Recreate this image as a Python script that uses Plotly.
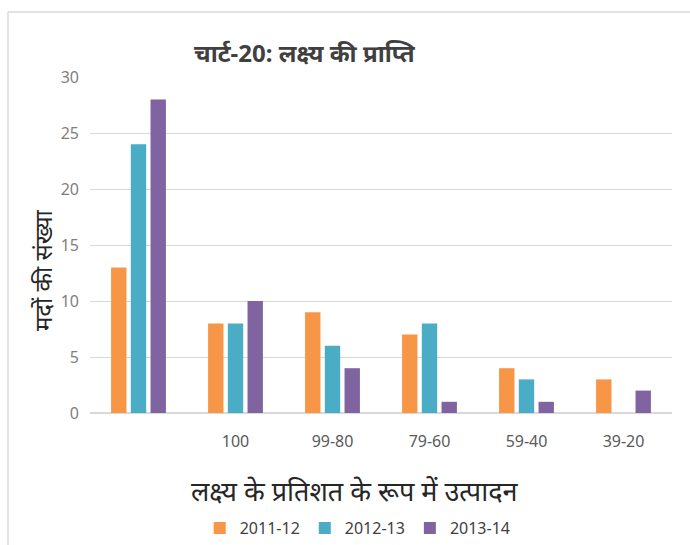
import plotly.graph_objects as go

categories = ["", "100", "99-80", "79-60", "59-40", "39-20"]
series_names = ["2011-12", "2012-13", "2013-14"]
v2011 = [13, 8, 9, 7, 4, 3]
v2012 = [24, 8, 6, 8, 3, 0]
v2013 = [28, 10, 4, 1, 1, 2]
colors = ["#F79646", "#4BACC6", "#8064A2"]

xs = list(range(len(categories)))
fig = go.Figure()
for name, vals, c in zip(series_names, [v2011, v2012, v2013], colors):
    fig.add_trace(go.Bar(x=xs, y=vals, name=name, marker=dict(color=c, line=dict(width=0))))

fig.update_layout(
    width=690, height=545,
    margin=dict(l=90, r=18, t=77, b=132, autoexpand=False),
    paper_bgcolor="white", plot_bgcolor="white",
    barmode="group", bargap=0.39, bargroupgap=0.22,
    font=dict(family="Noto Sans, DejaVu Sans, sans-serif", color="#595959"),
    showlegend=True,
    legend=dict(orientation="h", x=0.46, xanchor="center", y=-(528 - 413) / 336, yanchor="middle",
                font=dict(size=16, color="#404040"), traceorder="normal", itemwidth=30),
    xaxis=dict(tickmode="array", tickvals=xs, ticktext=categories,
               range=[-0.5, len(categories) - 0.5], showgrid=False, zeroline=False,
               showline=False, ticks="", tickfont=dict(size=16, color="#595959"),
               ticklabelstandoff=17),
    yaxis=dict(range=[0, 30], dtick=5, showgrid=True, gridcolor="#D9D9D9", gridwidth=1,
               zeroline=True, zerolinecolor="#D9D9D9", showline=False, ticks="",
               tickfont=dict(size=16, color="#7F7F7F"), ticklabelstandoff=10),
)

fig.add_annotation(text="<b>चार्ट-20: लक्ष्य की प्राप्ति</b>", xref="paper", yref="paper",
                   x=(305 - 90) / 582, y=1 + (77 - 52) / 336, showarrow=False,
                   font=dict(size=24, color="#404040"), xanchor="center", yanchor="middle")
fig.add_annotation(text="मदों की संख्या", xref="paper", yref="paper",
                   x=(42 - 90) / 582, y=(413 - 270) / 336, showarrow=False, textangle=-90,
                   font=dict(size=24, color="#262626"), xanchor="center", yanchor="middle")
fig.add_annotation(text="लक्ष्य के प्रतिशत के रूप में उत्पादन", xref="paper", yref="paper",
                   x=(354 - 90) / 582, y=-(490 - 413) / 336, showarrow=False,
                   font=dict(size=27, color="#262626"), xanchor="center", yanchor="middle")

# chart frame (left and top edges)
fig.add_shape(type="line", xref="paper", yref="paper", x0=(8 - 90) / 582, x1=(8 - 90) / 582,
              y0=-(545 - 413) / 336, y1=(413 - 12) / 336, line=dict(color="#D9D9D9", width=1.5))
fig.add_shape(type="line", xref="paper", yref="paper", x0=(8 - 90) / 582, x1=(700 - 90) / 582,
              y0=(413 - 12) / 336, y1=(413 - 12) / 336, line=dict(color="#D9D9D9", width=1.5))

fig.write_html("out.html")
